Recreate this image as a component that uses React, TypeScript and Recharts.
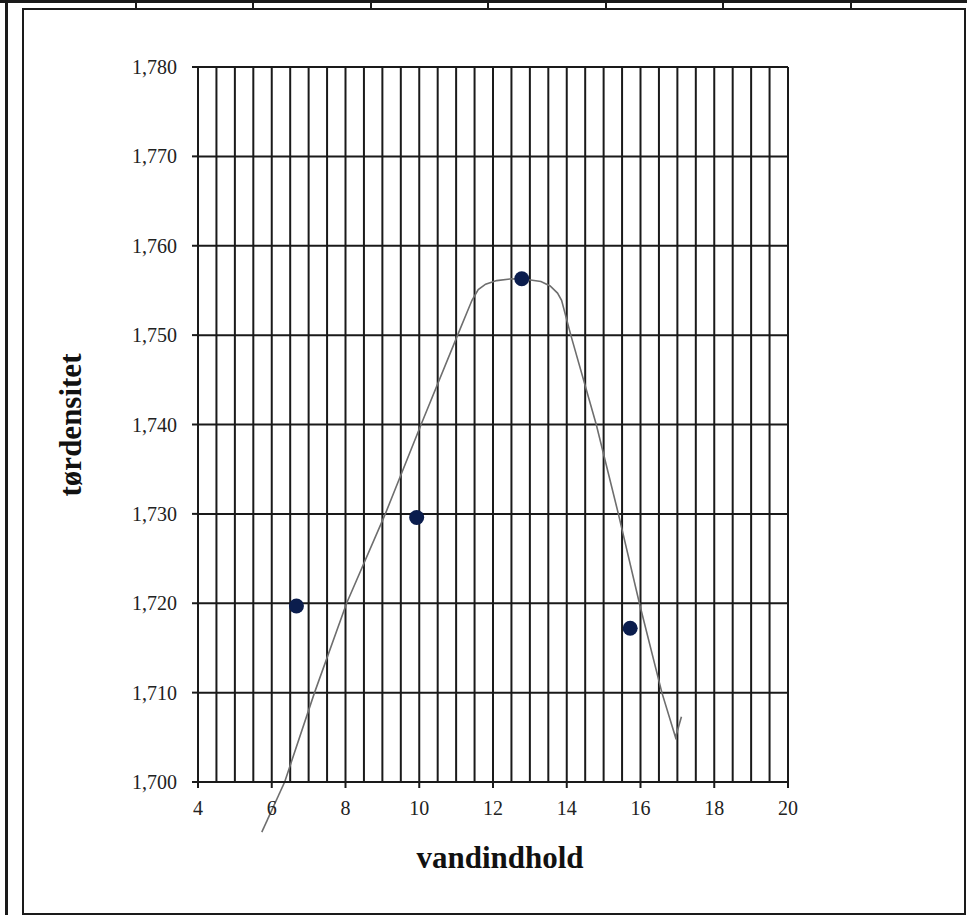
import {
  CartesianGrid,
  ComposedChart,
  Label,
  Line,
  ReferenceLine,
  Scatter,
  XAxis,
  YAxis,
} from 'recharts';

// measured points (vandindhold %, tørdensitet)
const measuredX = [6.67, 9.93, 12.78, 15.72];
const measuredY = [1.7197, 1.7296, 1.7563, 1.7172];

// hand-drawn curve
const curveX = [
  5.73, 6.35, 7.16, 8.03, 9.08, 10.05, 11.04, 11.43, 11.6, 11.8, 12.1, 12.5, 12.97, 13.3, 13.55,
  13.75, 13.86, 14.11, 14.8, 15.4, 15.97, 16.58, 16.95, 17.11,
];
const curveY = [
  1.6944, 1.7, 1.71, 1.72, 1.73, 1.74, 1.75, 1.7539, 1.7551, 1.7557, 1.7561, 1.7563, 1.7562, 1.756,
  1.7555, 1.7547, 1.7539, 1.75, 1.74, 1.73, 1.72, 1.71, 1.705, 1.7073,
];

const xTicks = [4, 6, 8, 10, 12, 14, 16, 18, 20];
const xGrid = [
  4, 4.5, 5, 5.5, 6, 6.5, 7, 7.5, 8, 8.5, 9, 9.5, 10, 10.5, 11, 11.5, 12, 12.5, 13, 13.5, 14, 14.5,
  15, 15.5, 16, 16.5, 17, 17.5, 18, 18.5, 19, 19.5, 20,
];
const yTicks = [1.7, 1.71, 1.72, 1.73, 1.74, 1.75, 1.76, 1.77, 1.78];
const topDividers = [135, 252, 370, 487, 605, 722, 850];

const measured = measuredX.map((x, i) => ({ x, y: measuredY[i] }));
const curve = curveX.map((x, i) => ({ x, y: curveY[i] }));

const INK = '#1a1a1a';
const FONT = '"Liberation Serif", "Times New Roman", serif';

function fmtDensity(v: number): string {
  return v.toFixed(3).replace('.', ',');
}

export default function App() {
  return (
    <div
      style={{
        position: 'absolute',
        left: 0,
        top: 0,
        width: 967,
        height: 915,
        background: '#fff',
        overflow: 'hidden',
      }}
    >
      {/* sheet frame */}
      <div style={{ position: 'absolute', left: 0, top: 0, width: 967, height: 3, background: INK }} />
      {topDividers.map((x) => (
        <div
          key={x}
          style={{ position: 'absolute', left: x, top: 0, width: 2, height: 9, background: INK }}
        />
      ))}
      <div style={{ position: 'absolute', left: 5, top: 0, width: 3, height: 915, background: INK }} />
      <div
        style={{
          position: 'absolute',
          left: 22,
          top: 8,
          width: 940,
          height: 903,
          border: `2px solid ${INK}`,
        }}
      />

      <div style={{ position: 'absolute', left: 0, top: 0 }}>
        <ComposedChart
          width={967}
          height={915}
          margin={{ top: 67, right: 179, left: 0, bottom: 33 }}
        >
          <CartesianGrid
            stroke={INK}
            strokeWidth={2}
            verticalValues={xGrid}
            horizontalValues={yTicks}
          />
          <XAxis
            dataKey="x"
            type="number"
            domain={[4, 20]}
            ticks={xTicks}
            allowDataOverflow
            height={100}
            axisLine={{ stroke: INK, strokeWidth: 2 }}
            tickLine={{ stroke: INK, strokeWidth: 2 }}
            tickSize={6}
            tickMargin={13}
            tick={{ fill: '#222', fontSize: 20, fontFamily: FONT }}
            interval={0}
          >
            <Label
              content={({ viewBox }: any) => (
                <text
                  x={viewBox.x + viewBox.width / 2 + 7}
                  y={868}
                  textAnchor="middle"
                  fill="#111"
                  fontFamily={FONT}
                  fontWeight="bold"
                  fontSize={31}
                >
                  vandindhold
                </text>
              )}
            />
          </XAxis>
          <YAxis
            dataKey="y"
            type="number"
            domain={[1.7, 1.78]}
            ticks={yTicks}
            allowDataOverflow
            width={198}
            axisLine={{ stroke: INK, strokeWidth: 2 }}
            tickLine={{ stroke: INK, strokeWidth: 2 }}
            tickSize={6}
            tickMargin={15}
            tick={{ fill: '#222', fontSize: 20, fontFamily: FONT }}
            tickFormatter={fmtDensity}
            interval={0}
          >
            <Label
              content={() => (
                <text
                  x={0}
                  y={0}
                  transform="translate(81, 425) rotate(-90)"
                  textAnchor="middle"
                  fill="#111"
                  fontFamily={FONT}
                  fontWeight="bold"
                  fontSize={31}
                >
                  tørdensitet
                </text>
              )}
            />
          </YAxis>
          <ReferenceLine
            segment={[curve[0], curve[1]]}
            ifOverflow="visible"
            stroke="#6e6e6e"
            strokeWidth={1.6}
          />
          <Line
            data={curve}
            dataKey="y"
            type="linear"
            stroke="#6e6e6e"
            strokeWidth={1.6}
            dot={false}
            activeDot={false}
            isAnimationActive={false}
          />
          <Scatter
            data={measured}
            dataKey="y"
            fill="#0b1d4d"
            shape={(p: any) => <circle cx={p.cx} cy={p.cy} r={7.5} fill="#0b1d4d" />}
            isAnimationActive={false}
          />
        </ComposedChart>
      </div>
    </div>
  );
}
